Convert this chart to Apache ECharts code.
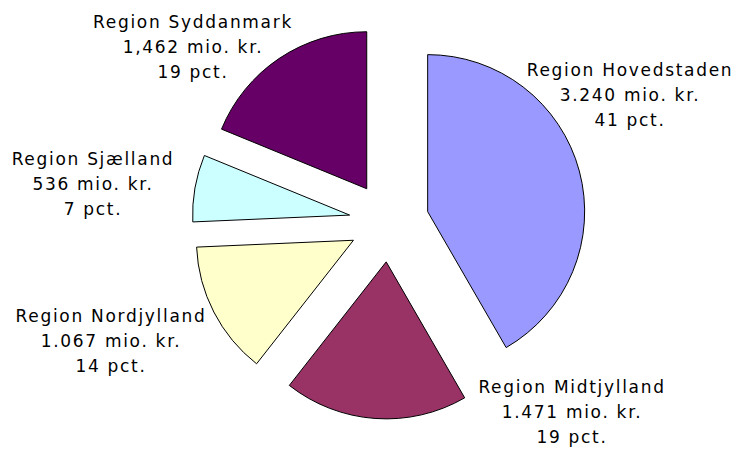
<!DOCTYPE html>
<html>
<head>
<meta charset="utf-8">
<script src="https://cdn.jsdelivr.net/npm/echarts@6/dist/echarts.min.js"></script>
<style>
html,body{margin:0;padding:0;background:#fff;}
#c{width:741px;height:453px;}
#c svg text{letter-spacing:1.7px;}
</style>
</head>
<body>
<div id="c"></div>
<script>
const regions = ['Region Hovedstaden', 'Region Midtjylland', 'Region Nordjylland', 'Region Sjælland', 'Region Syddanmark'];
const values = [3240, 1471, 1067, 536, 1462];
const valueLabels = ['3.240', '1.471', '1.067', '536', '1,462'];
const pctLabels = [41, 19, 14, 7, 19];
const colors = ['#9999FF', '#993366', '#FFFFCC', '#CCFFFF', '#660066'];

// label block centres (layout only, pixels)
const labelCenters = [[630, 95], [572, 412], [111, 341], [93, 184], [193, 47]];

const labelText = i => regions[i] + '\n' + valueLabels[i] + ' mio. kr.\n' + pctLabels[i] + ' pct.';

const chart = echarts.init(document.getElementById('c'), null, {renderer: 'svg'});
chart.setOption({
  animation: false,
  graphic: regions.map((n, i) => ({
    type: 'text',
    x: labelCenters[i][0],
    y: labelCenters[i][1],
    silent: true,
    style: {
      text: labelText(i),
      font: '17px "DejaVu Sans"',
      fill: '#000',
      align: 'center',
      verticalAlign: 'middle',
      lineHeight: 25
    }
  })),
  series: [{
    type: 'pie',
    center: ['52.5%', '49%'],
    radius: 157,
    startAngle: 90,
    clockwise: true,
    selectedMode: 'multiple',
    selectedOffset: 40,
    emphasis: {disabled: true},
    itemStyle: {borderColor: '#000', borderWidth: 1},
    label: {show: false},
    labelLine: {show: false},
    data: regions.map((n, i) => ({name: n, value: values[i], selected: true, itemStyle: {color: colors[i]}}))
  }]
});
</script>
</body>
</html>
